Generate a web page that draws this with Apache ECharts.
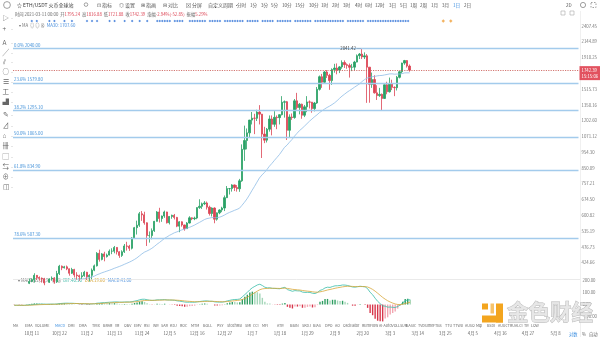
<!DOCTYPE html>
<html>
<head>
<meta charset="utf-8">
<script src="https://cdn.jsdelivr.net/npm/echarts@6/dist/echarts.min.js"></script>
<style>
html,body{margin:0;padding:0;background:#fff;}
#chart{width:600px;height:337px;}
</style>
</head>
<body>
<div id="chart"></div>
<script>
// ETH/USDT daily candles, 2020-10-04 .. 2021-03-11
const firstDay = '2020-10-04';
const dayCount = 226; // visible axis runs on to 2021-05-17

const opens = [
  346,352,353,340,341,351,365,370,375,387,381,379,377,366,368,377,379,369,392,414,409,412,406,393,404,388,386,383,
  386,396,383,387,402,415,455,435,453,444,449,462,462,475,460,448,460,480,479,472,509,549,559,608,603,569,518,518,537,575,
  616,587,598,616,569,596,601,592,555,573,560,545,568,590,586,589,636,642,654,658,638,609,634,584,612,625,634,684,731,731,751,
  737,730,774,975,1040,1100,1208,1225,1224,1281,1262,1090,1043,1130,1218,1171,1233,1230,1257,1377,1382,1121,1236,1231,1391,1324,1357,1252,1331,1380,1378,
  1314,1369,1514,1660,1594,1719,1677,1614,1750,1769,1743,1784,1843,1814,1804,1779,1781,1848,1937,1960,1919,1935,1781,1570,1626,1475,1446,1459,
  1416,1565,1487,1573,1536,1532,1653,1722,1835,1869,1795.24
];
const highs = [
  353,356,355,344,353,368,378,378,393,388,384,381,380,370,379,384,382,400,418,416,415,416,407,409,406,396,389,396,
  400,397,390,407,419,459,467,456,460,454,468,472,480,476,462,465,487,495,484,512,552,578,616,620,617,571,534,546,577,620,
  635,600,622,617,598,604,607,594,576,575,561,572,597,592,595,637,676,660,667,665,645,637,637,614,628,640,695,745,734,755,753,
  750,785,1011,1160,1136,1210,1282,1265,1303,1348,1264,1150,1140,1250,1250,1290,1250,1260,1440,1395,1390,1260,1268,1410,1475,1369,1363,1350,1440,1395,1380,
  1380,1540,1675,1695,1733,1743,1696,1765,1825,1830,1795,1872,1872,1830,1830,1824,1865,1955,1975,2041.42,1985,1960,1783,1712,1678,1560,1530,1468,
  1570,1600,1650,1624,1547,1670,1735,1840,1878,1876,1816.88
];
const lows = [
  343,346,335,336,335,348,363,368,367,374,372,367,360,363,366,372,364,366,388,402,407,402,386,391,381,375,372,377,
  383,374,370,376,399,413,428,432,429,441,448,452,455,451,440,443,456,464,463,468,507,522,552,577,561,480,492,504,532,574,
  570,573,590,566,562,586,583,551,531,553,537,544,566,580,580,584,630,630,648,627,600,596,567,578,606,615,620,682,700,715,718,
  715,714,768,896,975,1060,1170,1090,1200,1170,915,1020,1025,1110,1080,1150,1130,1170,1250,1230,1044,1060,1210,1220,1305,1260,1220,1235,1280,1315,1275,
  1288,1360,1500,1530,1583,1645,1508,1564,1710,1690,1705,1760,1770,1760,1650,1730,1740,1845,1890,1890,1890,1371,1372,1530,1467,1400,1432,1293,
  1410,1460,1478,1505,1440,1501,1640,1700,1812,1775,1721.88
];
const closes = [
  352,353,340,341,351,365,370,375,387,381,379,377,366,368,377,379,369,392,414,409,412,406,393,404,388,386,383,386,
  396,383,387,402,415,455,435,453,444,449,462,462,475,460,448,460,480,479,472,509,549,559,608,603,569,518,518,537,575,616,
  587,598,616,569,596,601,592,555,573,560,545,568,590,586,589,636,642,654,658,638,609,634,584,612,625,634,684,731,731,751,737,
  730,774,975,1040,1100,1208,1225,1224,1281,1262,1090,1043,1130,1218,1171,1233,1230,1257,1377,1382,1121,1236,1231,1391,1324,1357,1252,1331,1380,1378,1314,
  1369,1514,1660,1594,1719,1677,1614,1750,1769,1743,1784,1843,1814,1804,1779,1781,1848,1937,1960,1919,1935,1781,1570,1626,1475,1446,1459,1416,
  1565,1487,1573,1536,1532,1653,1722,1835,1869,1795.24,1742.39
];

// 30-day moving average of the close
const ma30 = [
  358.3,358.9,358.5,358.1,358.5,359.0,359.1,359.1,359.1,359.6,359.7,360.1,360.2,359.5,359.3,359.1,359.0,360.7,363.0,366.0,368.1,369.9,371.2,372.8,373.9,374.8,375.6,376.5,
  378.2,379.4,380.6,382.2,384.7,388.5,391.3,394.2,396.7,399.2,401.7,404.4,407.6,410.3,413.1,416.1,419.6,422.9,426.3,430.2,434.7,439.7,446.3,452.8,458.7,462.5,466.8,471.9,478.3,485.9,
  492.3,499.5,507.1,512.7,518.7,523.6,528.8,532.2,536.5,540.2,543.0,546.5,550.3,554.5,559.2,565.1,570.5,576.3,582.5,586.8,588.8,591.3,590.5,590.8,592.7,596.6,602.1,608.6,613.8,618.3,623.3,
  627.7,632.9,646.5,661.3,677.9,698.4,720.8,742.5,766.5,790.4,807.8,822.9,841.0,862.0,879.8,899.5,918.7,938.7,963.3,989.1,1005.3,1027.1,1047.7,1073.2,1096.2,1118.7,1136.0,1156.0,1177.0,1198.4,1217.8,
  1237.7,1255.6,1276.3,1292.8,1309.8,1324.9,1337.9,1353.5,1370.4,1392.2,1416.9,1440.6,1460.5,1481.6,1499.8,1518.2,1537.9,1556.5,1575.8,1602.4,1625.7,1644.0,1650.0,1660.1,1664.0,1670.5,1674.7,1675.9,
  1682.2,1687.9,1694.7,1695.5,1691.2,1693.2,1693.3,1698.5,1707.0,1708.5,1707.6
];

// MACD(12,26,9)
const dif = [
  -6.8,-6.4,-7.1,-7.5,-6.9,-5.3,-3.5,-1.7,0.7,2.1,3.1,3.6,3.1,2.8,3.3,3.8,3.4,4.8,7.6,9.3,10.8,11.4,10.6,10.8,9.5,8.3,7.0,6.1,
  6.2,5.1,4.5,5.2,6.7,11.0,12.6,15.2,16.4,17.5,19.2,20.3,22.0,21.9,20.6,20.2,21.4,21.9,21.5,23.9,28.7,33.0,39.8,44.3,44.7,40.3,36.5,34.6,35.7,39.5,
  39.7,40.2,41.6,38.5,37.8,37.2,35.6,31.0,28.4,25.0,20.9,19.3,19.6,19.3,19.1,22.4,25.3,28.2,30.5,30.3,27.5,27.1,22.4,20.7,20.1,20.2,24.1,30.5,35.2,40.1,42.4,
  43.1,46.7,65.0,83.8,102.4,124.4,141.6,153.4,165.3,171.3,160.3,146.2,140.4,141.3,136.6,136.2,134.2,133.2,140.6,145.1,126.2,119.0,111.7,117.5,115.3,114.9,104.9,102.3,102.8,102.0,95.1,
  92.9,101.8,119.2,126.2,140.3,146.3,144.3,152.0,157.8,158.4,160.4,164.9,164.2,160.9,154.5,147.9,146.5,150.7,154.2,151.8,149.5,133.8,103.1,82.4,53.1,27.2,7.6,-11.2,
  -13.9,-22.1,-21.4,-23.5,-25.2,-16.7,-4.3,14.5,31.8,39.0,40.1
];
const dea = [
  -6.2,-6.2,-6.4,-6.6,-6.7,-6.4,-5.8,-5.0,-3.9,-2.7,-1.5,-0.5,0.2,0.7,1.2,1.7,2.0,2.6,3.6,4.7,5.9,7.0,7.7,8.3,8.6,8.5,8.2,7.8,
  7.5,7.0,6.5,6.2,6.3,7.2,8.3,9.7,11.0,12.3,13.7,15.0,16.4,17.5,18.1,18.5,19.1,19.7,20.0,20.8,22.4,24.5,27.6,30.9,33.7,35.0,35.3,35.2,35.3,36.1,
  36.8,37.5,38.3,38.4,38.3,38.1,37.6,36.3,34.7,32.8,30.4,28.2,26.5,25.1,23.9,23.6,23.9,24.8,25.9,26.8,26.9,27.0,26.1,25.0,24.0,23.3,23.4,24.8,26.9,29.5,32.1,
  34.3,36.8,42.4,50.7,61.0,73.7,87.3,100.5,113.5,125.0,132.1,134.9,136.0,137.1,137.0,136.8,136.3,135.7,136.7,138.4,135.9,132.5,128.4,126.2,124.0,122.2,118.7,115.5,112.9,110.8,107.6,
  104.7,104.1,107.1,110.9,116.8,122.7,127.0,132.0,137.2,141.4,145.2,149.1,152.1,153.9,154.0,152.8,151.5,151.4,151.9,151.9,151.4,147.9,138.9,127.6,112.7,95.6,78.0,60.2,
  45.4,31.9,21.2,12.3,4.8,0.5,-0.5,2.5,8.4,14.5,19.6
];
const macdHist = [
  -1.2,-0.4,-1.4,-1.8,-0.4,2.2,4.6,6.6,9.2,9.6,9.2,8.2,5.8,4.2,4.2,4.2,2.8,4.4,8.0,9.2,9.8,8.8,5.8,5.0,1.8,-0.4,-2.4,-3.4,
  -2.6,-3.8,-4.0,-2.0,0.8,7.6,8.6,11.0,10.8,10.4,11.0,10.6,11.2,8.8,5.0,3.4,4.6,4.4,3.0,6.2,12.6,17.0,24.4,26.8,22.0,10.6,2.4,-1.2,0.8,6.8,
  5.8,5.4,6.6,0.2,-1.0,-1.8,-4.0,-10.6,-12.6,-15.6,-19.0,-17.8,-13.8,-11.6,-9.6,-2.4,2.8,6.8,9.2,7.0,1.2,0.2,-7.4,-8.6,-7.8,-6.2,1.4,11.4,16.6,21.2,20.6,
  17.6,19.8,45.2,66.2,82.8,101.4,108.6,105.8,103.6,92.6,56.4,22.6,8.8,8.4,-0.8,-1.2,-4.2,-5.0,7.8,13.4,-19.4,-27.0,-33.4,-17.4,-17.4,-14.6,-27.6,-26.4,-20.2,-17.6,-25.0,
  -23.6,-4.6,24.2,30.6,47.0,47.2,34.6,40.0,41.2,34.0,30.4,31.6,24.2,14.0,1.0,-9.8,-10.0,-1.4,4.6,-0.2,-3.8,-28.2,-71.6,-90.4,-119.2,-136.8,-140.8,-142.8,
  -118.6,-108.0,-85.2,-71.6,-60.0,-34.4,-7.6,24.0,46.8,49.0,41.0
];

// Fibonacci retracement drawn from 2040 down to 90
const fibLevels = ['0.0%', '23.6%', '38.2%', '50.0%', '61.8%', '78.6%'];
const fibPrices = [2040.00, 1579.80, 1295.10, 1065.00, 834.90, 507.30];

// right-hand price scale labels
const priceTicks = [424.66, 476.73, 535.19, 600.82, 674.50, 757.21, 850.09, 954.30, 1071.12, 1202.60, 1350.16, 1515.73, 1701.58, 1910.25, 2144.89, 2407.45];
const macdTicks = [-100, 0, 100, 200];

// dates that carry a date label on the time axis
const tickDays = ['2020-10-11','2020-10-22','2020-11-02','2020-11-13','2020-11-24','2020-12-05','2020-12-16','2020-12-27',
  '2021-01-07','2021-01-18','2021-01-29','2021-02-09','2021-02-20','2021-03-03','2021-03-14','2021-03-25',
  '2021-04-05','2021-04-16','2021-04-27','2021-05-08'];

// signal marker runs (inclusive date ranges) and event markers
const signalRuns = [
  ['2020-10-11'],['2020-10-13'],['2020-10-18'],['2020-10-20'],['2020-10-24'],['2020-10-27'],
  ['2020-11-02'],['2020-11-04'],['2020-11-06'],['2020-11-11'],['2020-11-13'],['2020-11-17'],
  ['2020-11-20'],['2020-11-23'],['2020-11-26'],
  ['2020-11-30','2020-12-05'],['2020-12-07','2020-12-10'],['2020-12-13','2020-12-19'],
  ['2020-12-21','2020-12-25'],['2020-12-27','2021-01-03'],['2021-01-05','2021-01-09'],
  ['2021-01-11','2021-01-15'],['2021-01-17','2021-01-22'],['2021-01-24','2021-01-30'],
  ['2021-02-01','2021-02-12'],['2021-02-14','2021-02-20'],['2021-02-22','2021-03-10']
];
const eventDays = ['2021-03-24', '2021-03-27'];

const indicatorTabs = ['MA','EMA','VOLUME','MACD','DMI','DMA','TRIX','BRAR','VR','OBV','EMV','RSI','WR','SAR','KDJ','ROC','MTM',
  'BOLL','PSY','StochRSI','SMI','CCI','MFI','ATR','BBIN','SKDJ','BIAS','DPO','AO','Oscillator','RumFlow','AI-AutoVOL',
  'LSUR','BASIC','TVolume','FTBS','TTU','TTWu','AUSO','MqI','BSDI','AUUCTRU','ALCI','TR','LOW'];
const tabX = [13,25,35,55,68,79,92,103,115,124,134,144,153,161,170,180,191,
  203,217,227,245,253,262,277,290,302,313,325,335,343,362,379,398,406,418,433,445,453,465,476,487,498,515,524,531];

const periods = ['分时','1分','3分','5分','10分','15分','30分','1时','2时','3时','4时','6时','12时','3日','5日','1周','2周','1月','3月','1日','2日'];
const periodX = [237,250,261,271,282,295,309,321,332,343,355,365,375,389,400,410,420,431,442,453,464];
const activePeriod = '1日';

// ---------------------------------------------------------------
const UP = '#2aa166', DOWN = '#dc4454';
const FONT = '"Noto Sans CJK SC","Noto Sans",sans-serif';

const days = [];
for (let i = 0; i < dayCount; i++) {
  const d = new Date(Date.parse(firstDay + 'T00:00:00Z') + i * 864e5);
  days.push(d.toISOString().slice(0, 10));
}
const candles = opens.map((o, i) => [o, closes[i], lows[i], highs[i]]);

function expandRuns(runs) {
  const out = [];
  runs.forEach(r => {
    let t = Date.parse(r[0] + 'T00:00:00Z');
    const e = Date.parse((r[1] || r[0]) + 'T00:00:00Z');
    for (; t <= e; t += 864e5) out.push(new Date(t).toISOString().slice(0, 10));
  });
  return out;
}
const signalDays = expandRuns(signalRuns);

const last = opens.length - 1;
const lastOpen = opens[last], lastClose = closes[last];
const chg = lastClose - lastOpen;
const chgPct = chg / lastOpen * 100;
const amp = (highs[last] - lows[last]) / lastOpen * 100;
const peakIdx = highs.indexOf(Math.max(...highs));

function fmtDay(v) {
  const p = v.split('-');
  return (+p[1]) + '月 ' + (+p[2]);
}

const chart = echarts.init(document.getElementById('chart'), null, { renderer: 'canvas' });

const fibLines = fibPrices.map((p, i) => ({
  yAxis: p,
  lineStyle: { color: '#a3cbec', width: 1.3, type: 'solid' },
  label: {
    show: true, position: 'insideStartTop', distance: [1, 1.5],
    formatter: fibLevels[i] + ' ' + p.toFixed(2),
    color: '#3f8fd8', fontSize: 4.3, fontFamily: FONT
  }
}));

const priceLine = {
  yAxis: lastClose,
  lineStyle: { color: '#c8544e', width: 0.8, type: [1.2, 1.2] },
  label: {
    show: true, position: 'end', distance: 1,
    formatter: '{p|' + lastClose.toFixed(2) + '}\n{t|15:15:06}',
    backgroundColor: '#e2525f', padding: [1, 2, 1, 2], offset: [0, 3],
    rich: {
      p: { color: '#fff', fontSize: 4.3, lineHeight: 6, fontFamily: FONT },
      t: { color: '#fff', fontSize: 4.3, lineHeight: 6, fontFamily: FONT }
    }
  }
};

// chrome: toolbars, legends and captions
const gray = '#555';
const graphics = [];
function txt(text, x, y, size, color, extra) {
  graphics.push(Object.assign({
    type: 'text', x: x, y: y, silent: true,
    style: { text: text, fontSize: size, fill: color, fontFamily: FONT, verticalAlign: 'middle', align: 'left' }
  }, extra || {}));
}
// top toolbar
graphics.push({ type: 'circle', shape: { cx: 7, cy: 5, r: 3.4 }, style: { fill: 'none', stroke: '#888', lineWidth: 0.8 }, silent: true });
txt('☆ ETH/USDT 火币全球站', 17, 5, 5, '#333');
graphics.push({ type: 'circle', shape: { cx: 86, cy: 4.6, r: 1.8 }, style: { fill: 'none', stroke: '#666', lineWidth: 0.6 }, silent: true });
txt('⊡ 指标', 97, 5, 5, gray);
txt('◎ 设置', 119, 5, 5, gray);
txt('⊞ 指画', 141, 5, 5, gray);
txt('⊟ 对比', 163, 5, 5, gray);
txt('⊠ 分屏', 186, 5, 5, gray);
txt('自定义周期 ·', 208, 5, 5, gray);
periods.forEach((p, i) => txt(p, periodX[i], 5, 4.6, p === activePeriod ? '#3b8ee0' : gray));
txt('2D', 566, 5, 4.6, gray);
graphics.push({ type: 'circle', shape: { cx: 583, cy: 5, r: 2.6 }, style: { fill: 'none', stroke: '#777', lineWidth: 0.7 }, silent: true });
graphics.push({ type: 'rect', shape: { x: 591, y: 2.5, width: 5, height: 5 }, style: { fill: 'none', stroke: '#777', lineWidth: 0.7, lineDash: [1.5, 1.5] }, silent: true });
graphics.push({ type: 'rect', shape: { x: 561, y: 11, width: 4, height: 4 }, style: { fill: 'none', stroke: '#aaa', lineWidth: 0.6 }, silent: true });
graphics.push({ type: 'rect', shape: { x: 570, y: 11, width: 4, height: 4 }, style: { fill: 'none', stroke: '#aaa', lineWidth: 0.6 }, silent: true });

// info line of the current candle
const upDown = chg >= 0 ? UP : DOWN;
graphics.push({
  type: 'text', x: 15, y: 14, silent: true,
  style: {
    text: '{l|时间 ' + days[last] + ' 00:00}  {l|开}{v|' + lastOpen.toFixed(2) + '}  {l|高}{v|' + highs[last].toFixed(2) +
      '}  {l|低}{v|' + lows[last].toFixed(2) + '}  {l|收}{v|' + lastClose.toFixed(2) + '}  {l|涨幅}{v|' + chgPct.toFixed(2) +
      '%(' + chg.toFixed(2) + ')}  {l|振幅}{v|' + amp.toFixed(2) + '%}',
    verticalAlign: 'middle', fontFamily: FONT, fontSize: 4.3,
    rich: { l: { fill: '#666', fontSize: 4.3, fontFamily: FONT }, v: { fill: upDown, fontSize: 4.3, fontFamily: FONT } }
  }
});
// MA legend
graphics.push({
  type: 'text', x: 19, y: 25.5, silent: true,
  style: {
    text: '{g|▾ MA  ◎ ◎ ⊗}  {b|MA30: ' + ma30[last].toFixed(2) + '}',
    verticalAlign: 'middle', fontFamily: FONT, fontSize: 4.3,
    rich: { g: { fill: '#777', fontSize: 4.3, fontFamily: FONT }, b: { fill: '#4a8fdc', fontSize: 4.3, fontFamily: FONT } }
  }
});
// MACD legend
graphics.push({
  type: 'text', x: 18, y: 280.5, silent: true,
  style: {
    text: '{g|▾ MACD(12,26,9)  ◎ ⊗}  {t|DIF:' + dif[last].toFixed(2) + '}   {o|DEA:' + dea[last].toFixed(2) + '}   {b|MACD:' + macdHist[last].toFixed(2) + '}',
    verticalAlign: 'middle', fontFamily: FONT, fontSize: 4.3,
    rich: {
      g: { fill: '#777', fontSize: 4.3, fontFamily: FONT },
      t: { fill: '#2eb3a0', fontSize: 4.3, fontFamily: FONT },
      o: { fill: '#d4a12e', fontSize: 4.3, fontFamily: FONT },
      b: { fill: '#4a8fdc', fontSize: 4.3, fontFamily: FONT }
    }
  }
});
// left drawing toolbar
const toolGlyphs = ['▷','+','A','╱','⫽','○','☰','工','▟','✎','⊿','⌂','卌','▢','⇆','⊕','◫'];
const toolY = [18, 29, 43, 53, 62, 72, 82, 92, 102, 115, 126, 136, 146, 157, 167, 177, 187];
toolGlyphs.forEach((g, i) => {
  txt(g, 2.5, toolY[i], 6.5, '#666');
  txt('·', 10, toolY[i] + 1.5, 4, '#999');
});
// indicator tabs
indicatorTabs.forEach((t, i) => txt(t, tabX[i], 326, 3.7, t === 'MACD' ? '#3b8ee0' : '#666'));
// scale mode switches
txt('对数', 569, 334, 4.3, '#3b8ee0');
txt('%', 582, 334, 4.3, '#666');
txt('自动', 589, 334, 4.3, '#666');
// panel separators
graphics.push({ type: 'line', shape: { x1: 13, y1: 279.5, x2: 580, y2: 279.5 }, style: { stroke: '#e4e4e4', lineWidth: 0.8 }, silent: true });
graphics.push({ type: 'line', shape: { x1: 580.5, y1: 11, x2: 580.5, y2: 337 }, style: { stroke: '#ececec', lineWidth: 0.8 }, silent: true });
// watermark
graphics.push({ type: 'rect', shape: { x: 482, y: 303.5, width: 6, height: 6 }, style: { fill: '#f3a51f' }, silent: true, z: 200 });
graphics.push({ type: 'rect', shape: { x: 496, y: 303.5, width: 7, height: 19 }, style: { fill: '#f3a51f' }, silent: true, z: 200 });
graphics.push({ type: 'rect', shape: { x: 482, y: 315.5, width: 21, height: 7 }, style: { fill: '#f3a51f' }, silent: true, z: 200 });
graphics.push({ type: 'rect', shape: { x: 490.5, y: 303.5, width: 3.5, height: 10 }, style: { fill: '#f7c36a' }, silent: true, z: 200 });
graphics.push({
  type: 'text', x: 507, y: 312, silent: true, z: 200,
  style: { text: '金色财经', fontSize: 21.5, fontWeight: 'bold', fontFamily: FONT, fill: 'rgba(228,228,228,0.9)', stroke: 'rgba(150,150,150,0.7)', lineWidth: 0.8, verticalAlign: 'middle' }
});

const option = {
  animation: false,
  backgroundColor: '#ffffff',
  textStyle: { fontFamily: FONT },
  grid: [
    { left: 13, right: 20, top: 11, height: 268 },
    { left: 13, right: 20, top: 269, height: 59.2 },
    { left: 13, right: 20, top: 19, height: 4 }
  ],
  xAxis: [
    { type: 'category', gridIndex: 0, data: days, boundaryGap: true, axisLine: { show: false }, axisTick: { show: false }, axisLabel: { show: false }, splitLine: { show: false } },
    {
      type: 'category', gridIndex: 1, data: days, boundaryGap: true, axisLine: { show: false }, axisTick: { show: false }, splitLine: { show: false },
      axisLabel: { interval: (i, v) => tickDays.includes(v), formatter: fmtDay, fontSize: 4.3, color: '#666', margin: 3, fontFamily: FONT }
    },
    { type: 'category', gridIndex: 2, data: days, boundaryGap: true, show: false }
  ],
  yAxis: [
    {
      type: 'log', gridIndex: 0, position: 'right', min: 376.8, max: 2688,
      axisLine: { show: false }, axisTick: { show: false }, splitLine: { show: false },
      axisLabel: { customValues: priceTicks, formatter: v => v.toFixed(2), fontSize: 4.3, color: '#777', margin: 3, fontFamily: FONT }
    },
    {
      type: 'value', gridIndex: 1, position: 'right', min: -200, max: 300, interval: 100,
      axisLine: { show: false }, axisTick: { show: false }, splitLine: { show: false },
      axisLabel: { customValues: macdTicks, formatter: v => v.toFixed(2), fontSize: 4.3, color: '#777', margin: 3, fontFamily: FONT }
    },
    { type: 'value', gridIndex: 2, min: -1, max: 1, show: false }
  ],
  series: [
    {
      type: 'candlestick', name: 'ETH/USDT', xAxisIndex: 0, yAxisIndex: 0, data: candles, barWidth: 1.7, clip: true,
      itemStyle: { color: UP, color0: DOWN, borderColor: UP, borderColor0: DOWN, borderWidth: 0.8 },
      markLine: { silent: true, symbol: 'none', animation: false, data: fibLines.concat([priceLine]) },
      markPoint: {
        silent: true, symbol: 'circle', symbolSize: 0, animation: false,
        data: [{ coord: [days[peakIdx], highs[peakIdx]], value: highs[peakIdx] }],
        label: { show: true, position: 'left', distance: 1, formatter: p => p.value.toFixed(2) + ' ─', color: '#444', fontSize: 4.3, fontFamily: FONT }
      }
    },
    {
      type: 'line', name: 'MA30', xAxisIndex: 0, yAxisIndex: 0, data: ma30, showSymbol: false, smooth: false,
      lineStyle: { color: '#8fbde6', width: 0.8 }, clip: true, z: 3
    },
    {
      type: 'bar', name: 'MACD', xAxisIndex: 1, yAxisIndex: 1, data: macdHist, barWidth: 1.4,
      itemStyle: {
        color: p => {
          const v = macdHist[p.dataIndex];
          const prev = p.dataIndex > 0 ? macdHist[p.dataIndex - 1] : 0;
          if (v >= 0) return v >= prev ? '#2f9e62' : '#a4d6b9';
          return v <= prev ? '#d7364b' : '#f2a5b0';
        }
      }
    },
    { type: 'line', name: 'DIF', xAxisIndex: 1, yAxisIndex: 1, data: dif, showSymbol: false, lineStyle: { color: '#37bca8', width: 0.8 } },
    { type: 'line', name: 'DEA', xAxisIndex: 1, yAxisIndex: 1, data: dea, showSymbol: false, lineStyle: { color: '#d7a73a', width: 0.8 } },
    {
      type: 'scatter', name: 'signal', xAxisIndex: 2, yAxisIndex: 2, symbol: 'diamond', symbolSize: 2.6,
      data: signalDays.map(d => [d, 0]), itemStyle: { color: '#2c6fd6' }
    },
    {
      type: 'scatter', name: 'event', xAxisIndex: 2, yAxisIndex: 2, symbol: 'diamond', symbolSize: 3.4,
      data: eventDays.map(d => [d, 0]), itemStyle: { color: '#f0a03a' }
    }
  ],
  graphic: { elements: graphics }
};
chart.setOption(option);
</script>
</body>
</html>
